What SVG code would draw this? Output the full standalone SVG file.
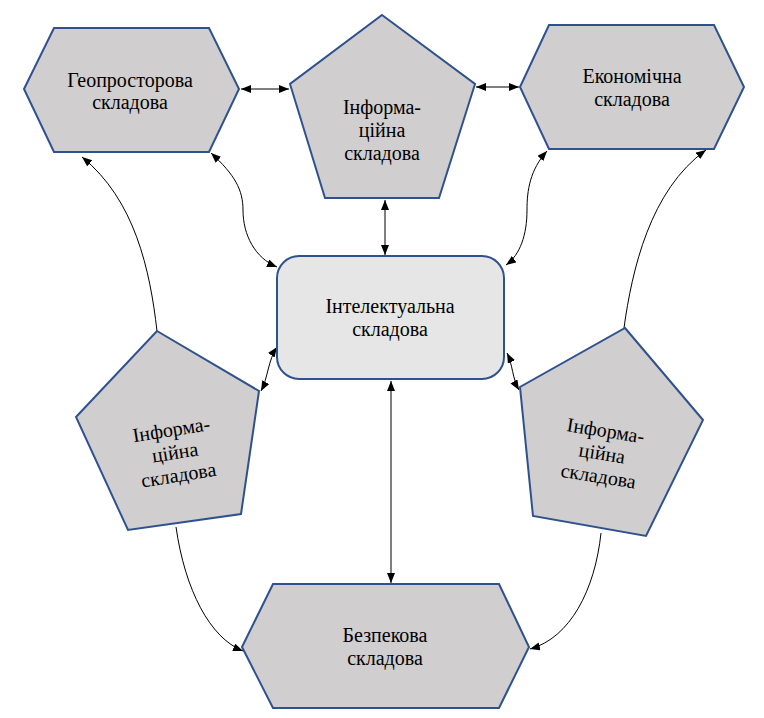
<svg xmlns="http://www.w3.org/2000/svg" width="764" height="718" viewBox="0 0 764 718">
<style>
.n{fill:#d0cece;stroke:#2f528f;stroke-width:2;stroke-linejoin:miter}
.c{fill:#e7e6e6;stroke:#2f528f;stroke-width:2}
text{font-family:"Liberation Serif","Times New Roman",serif;font-size:20px;fill:#000;text-anchor:middle}
.e{fill:none;stroke:#000;stroke-width:1}
</style>
<defs>
<marker id="ah" markerUnits="userSpaceOnUse" markerWidth="11" markerHeight="9" refX="10" refY="4" orient="auto-start-reverse" viewBox="0 0 11 9">
<path d="M0,0 L10,4 L0,8 z" fill="#000"/>
</marker>
</defs>
<rect width="764" height="718" fill="#fff"/>
<g id="connectors">
<path class="e" d="M241,89 L289,89" marker-start="url(#ah)" marker-end="url(#ah)"/>
<path class="e" d="M476,87 L519,87" marker-start="url(#ah)" marker-end="url(#ah)"/>
<path class="e" d="M385,200 L385,255" marker-start="url(#ah)" marker-end="url(#ah)"/>
<path class="e" d="M211,153 C235,175 243,190 243,210 C243,235 255,258 277,267" marker-start="url(#ah)" marker-end="url(#ah)"/>
<path class="e" d="M547,151 C530,170 527,190 527,210 C527,235 520,255 506,265" marker-start="url(#ah)" marker-end="url(#ah)"/>
<path class="e" d="M157,331 C150,270 135,200 82,157" marker-end="url(#ah)"/>
<path class="e" d="M624,328 C632,270 650,190 706,150" marker-end="url(#ah)"/>
<path class="e" d="M261,391 C268,378 268,360 277,347" marker-start="url(#ah)" marker-end="url(#ah)"/>
<path class="e" d="M519,390 C512,378 513,365 507,353" marker-start="url(#ah)" marker-end="url(#ah)"/>
<path class="e" d="M391,381 L391,583" marker-start="url(#ah)" marker-end="url(#ah)"/>
<path class="e" d="M176,527 C185,590 210,638 243,651" marker-end="url(#ah)"/>
<path class="e" d="M601,533 C595,590 570,638 530,649" marker-end="url(#ah)"/>
</g>
<g id="geo">
<polygon class="n" points="24,89 54,28 209,28 239,89 209,152 54,152"/>
<text x="130" y="87">Геопросторова</text>
<text x="130" y="109">складова</text>
</g>
<g id="info-top">
<polygon class="n" points="382,15 475,84 439,198 325,198 290,84"/>
<text x="382" y="114">Інформа-</text>
<text x="382" y="137">ційна</text>
<text x="382" y="160">складова</text>
</g>
<g id="econ">
<polygon class="n" points="520,87 549,25 714,25 744,87 714,149 549,149"/>
<text x="632" y="83">Економічна</text>
<text x="632" y="106">складова</text>
</g>
<g id="intel">
<rect class="c" x="277" y="256" width="227" height="123" rx="22" ry="22"/>
<text x="390" y="313">Інтелектуальна</text>
<text x="390" y="336">складова</text>
</g>
<g id="info-left">
<polygon class="n" points="157,331 259,391 241,514 128,530 76,417"/>
<g transform="rotate(-9 175 453)">
<text x="175" y="436">Інформа-</text>
<text x="175" y="459">ційна</text>
<text x="175" y="482">складова</text>
</g>
</g>
<g id="info-right">
<polygon class="n" points="625,328 703,420 646,536 533,516 520,387"/>
<g transform="rotate(9 602 454)">
<text x="602" y="437">Інформа-</text>
<text x="602" y="460">ційна</text>
<text x="602" y="483">складова</text>
</g>
</g>
<g id="bezp">
<polygon class="n" points="242,647 273,584 499,584 529,647 499,708 273,708"/>
<text x="385" y="642">Безпекова</text>
<text x="385" y="665">складова</text>
</g>
</svg>
